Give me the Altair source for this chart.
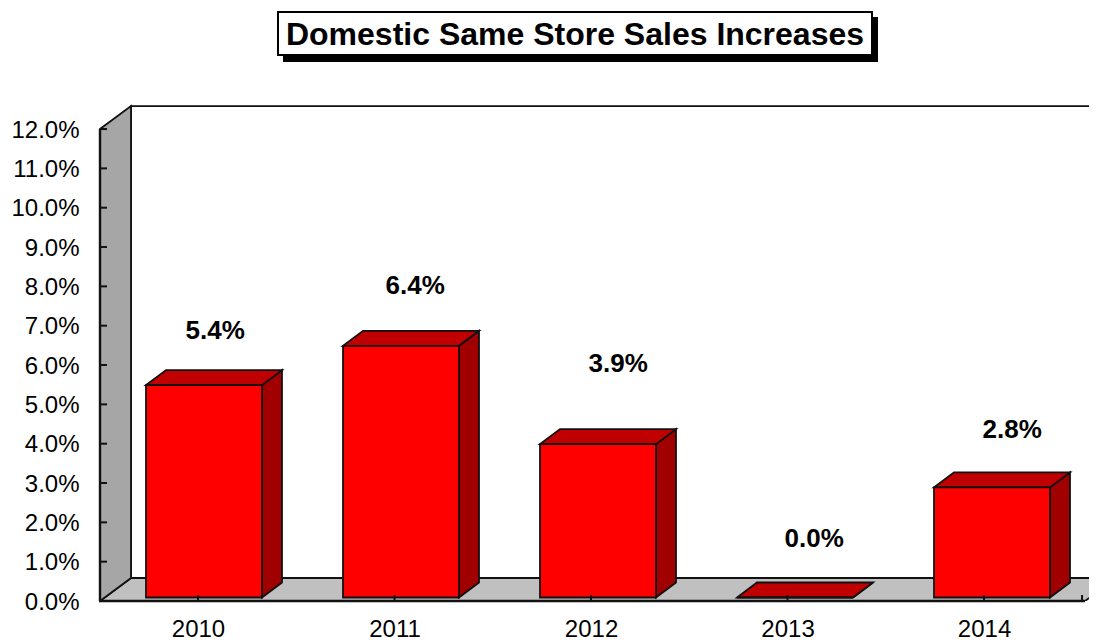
import altair as alt
import pandas as pd

title_text = "Domestic Same Store Sales Increases"
categories = ["2010", "2011", "2012", "2013", "2014"]
values = [5.4, 6.4, 3.9, 0.0, 2.8]
label_lift = [1.47, 1.61, 2.125, 1.575, 1.55]
label_shift = [0.085, 0.1, 0.13, 0.125, 0.13]
y_ticks = list(range(0, 13))

# scale geometry, in data units
PX_X, PX_Y = 197.0, 39.33
PLOT_W, PLOT_H = 989, 593
WALL_DX, WALL_DY = 31 / PX_X, 23 / PX_Y
BAR_DX, BAR_DY = 20 / PX_X, 15 / PX_Y
BAR_LEFT, BAR_W, BAR_BASE = 46 / PX_X, 116 / PX_X, 3.5 / PX_Y
TICK_STEP, TICK_START = 0.9975, 0.4975
FONT = "Liberation Sans"
STROKE = "#111111"
x_ticks = [TICK_START + i * TICK_STEP for i in range(5)]

x_scale = alt.Scale(domain=[0, PLOT_W / PX_X], nice=False, zero=False)
y_scale = alt.Scale(domain=[0, PLOT_H / PX_Y], nice=False, zero=False)
x_axis = alt.Axis(title=None, values=x_ticks, domain=False, ticks=False, grid=False,
                  labelFont=FONT, labelFontSize=24, labelColor="black", labelPadding=16,
                  labelExpr="['2010','2011','2012','2013','2014'][floor(datum.value)]")
y_axis = alt.Axis(title=None, values=y_ticks, domain=False, ticks=False, grid=False,
                  labelFont=FONT, labelFontSize=24, labelColor="black", labelPadding=21, labelOffset=1,
                  labelExpr="format(datum.value, '.1f') + '%'")


def X(f):
    return alt.X(f + ":Q", scale=x_scale, axis=x_axis)


def Y(f):
    return alt.Y(f + ":Q", scale=y_scale, axis=y_axis)


def polygon(data, fill, clip=False, width=1.8):
    return alt.Chart(pd.DataFrame(data)).mark_area(
        fill=fill, stroke=STROKE, strokeWidth=width, orient="vertical", clip=clip, opacity=1
    ).encode(x=X("x"), y=Y("y"), y2=alt.Y2("y2"), detail="id:N")


def horizontal_face(i, x0, x1, dx, y, dy):
    return [
        {"id": i, "x": x0, "y": y, "y2": y},
        {"id": i, "x": x0 + dx, "y": y, "y2": y + dy},
        {"id": i, "x": x1, "y": y, "y2": y + dy},
        {"id": i, "x": x1 + dx, "y": y + dy, "y2": y + dy},
    ]


def vertical_face(i, x, dx, y0, y1, dy):
    return [
        {"id": i, "x": x, "y": y0, "y2": y1},
        {"id": i, "x": x + dx, "y": y0 + dy, "y2": y1 + dy},
    ]


# walls and floor
back = alt.Chart(pd.DataFrame([{"x": WALL_DX, "x2": 5 + WALL_DX, "y": WALL_DY, "y2": 12 + WALL_DY}])).mark_rect(
    fill="white", stroke=STROKE, strokeWidth=1.8, clip=True
).encode(x=X("x"), x2="x2:Q", y=Y("y"), y2="y2:Q")
floor = polygon(horizontal_face(0, 0, 5, WALL_DX, 0, WALL_DY), "#c0c0c0", clip=True)
left_wall = polygon(vertical_face(0, 0, WALL_DX, 0, 12, WALL_DY), "#a6a6a6")

# bars
side_rows, top_rows, front_rows = [], [], []
for i, v in enumerate(values):
    x0 = i + BAR_LEFT
    x1 = x0 + BAR_W
    top = BAR_BASE + v
    side_rows += vertical_face(i, x1, BAR_DX, BAR_BASE, top, BAR_DY)
    top_rows += horizontal_face(i, x0, x1, BAR_DX, top, BAR_DY)
    front_rows.append({"x": x0, "x2": x1, "y": BAR_BASE, "y2": top})
sides = polygon(side_rows, "#a00000")
tops = polygon(top_rows, "#c00000")
fronts = alt.Chart(pd.DataFrame(front_rows)).mark_rect(
    fill="#ff0000", stroke=STROKE, strokeWidth=1.8
).encode(x=X("x"), x2="x2:Q", y=Y("y"), y2="y2:Q")

# axis lines and ticks drawn inside the depth, as in the source
axis_h = alt.Chart(pd.DataFrame([{"x": 0, "x2": 5, "y": 0}])).mark_rule(color="#111111", strokeWidth=2.4).encode(
    x=X("x"), x2="x2:Q", y=Y("y"))
axis_v = alt.Chart(pd.DataFrame([{"x": 0, "y": 0, "y2": 12}])).mark_rule(color="#111111", strokeWidth=2.4).encode(
    x=X("x"), y=Y("y"), y2="y2:Q")
y_tick_layer = alt.Chart(pd.DataFrame({"y": y_ticks, "x": 0.0, "x2": 7 / PX_X})).mark_rule(
    color="#111111", strokeWidth=2).encode(x=X("x"), x2="x2:Q", y=Y("y"))
x_tick_layer = alt.Chart(pd.DataFrame({"x": x_ticks + [TICK_START + 5 * TICK_STEP - 0.5], "y": 0.0, "y2": 6 / PX_Y})).mark_rule(
    color="#111111", strokeWidth=2).encode(x=X("x"), y=Y("y"), y2="y2:Q")

# value labels
labels = alt.Chart(pd.DataFrame({
    "x": [i + 0.5 + s for i, s in enumerate(label_shift)],
    "y": [v + l for v, l in zip(values, label_lift)],
    "t": [f"{v:.1f}%" for v in values],
})).mark_text(font=FONT, fontSize=26, fontWeight="bold", color="black", baseline="middle").encode(
    x=X("x"), y=Y("y"), text="t:N")

# title box
t_df = pd.DataFrame({"t": [title_text]})
shadow = alt.Chart(t_df).mark_rect(fill="black").encode(
    x=alt.value(183), x2=alt.value(778), y=alt.value(9), y2=alt.value(54))
box = alt.Chart(t_df).mark_rect(fill="white", stroke="black", strokeWidth=2).encode(
    x=alt.value(178), x2=alt.value(772), y=alt.value(4), y2=alt.value(47))
title = alt.Chart(t_df).mark_text(font=FONT, fontSize=32, fontWeight="bold", color="black", baseline="middle").encode(
    x=alt.value(475), y=alt.value(27), text="t:N")

chart = alt.layer(
    back, floor, left_wall, sides, tops, fronts, axis_h, axis_v, y_tick_layer, x_tick_layer, labels, shadow, box, title
).properties(
    width=PLOT_W, height=PLOT_H, autosize="none",
    padding={"left": 92, "top": 0, "right": 0, "bottom": 40},
    background="white",
).configure_view(stroke=None)

chart.save("out.html", embed_options={"renderer": "svg", "actions": False})
